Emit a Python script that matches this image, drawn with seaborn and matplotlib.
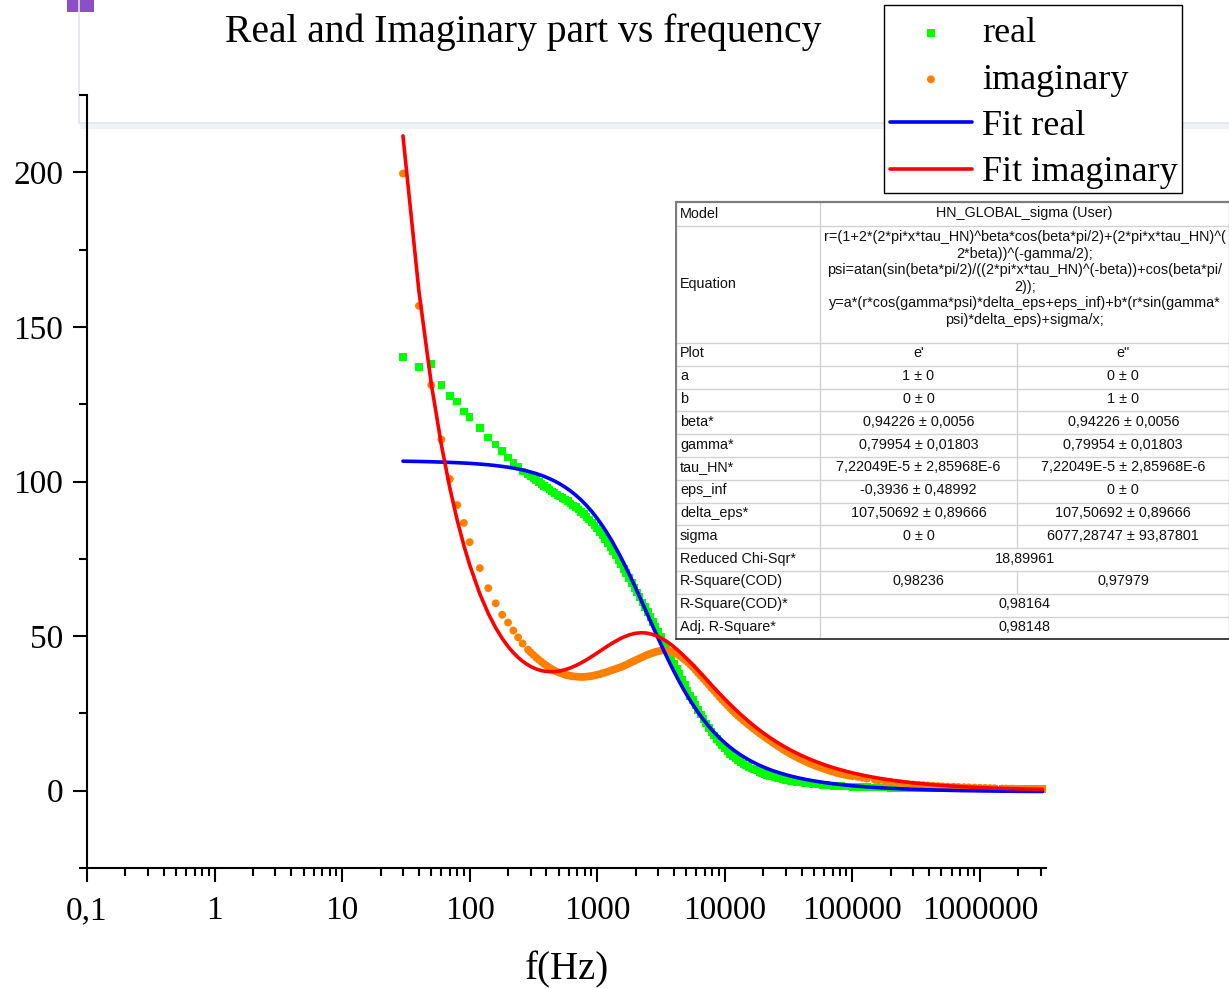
import numpy as np
import pandas as pd
import matplotlib
matplotlib.use("Agg")
import matplotlib.pyplot as plt
from matplotlib.patches import Rectangle
from matplotlib.lines import Line2D
from matplotlib.ticker import FixedLocator, FixedFormatter, LogLocator, MultipleLocator, NullFormatter
import seaborn as sns

# ---------------------------------------------------------------- measured data
freq = [30, 40, 50, 60, 70, 80, 90, 100, 120, 140, 160, 180, 200, 220, 240, 260,
        287, 301, 316, 332, 348, 365, 383, 402, 422, 442, 464, 487, 511, 536, 562, 590,
        619, 649, 681, 715, 750, 787, 825, 866, 909, 953, 1000,
        1050, 1100, 1150, 1210, 1270, 1330, 1400, 1470, 1540, 1620,
        1690, 1780, 1870, 1960, 2050, 2150, 2260, 2370, 2490, 2610,
        2740, 2870, 3010, 3160, 3320, 3480, 3650, 3830, 4020, 4220,
        4420, 4640, 4870, 5110, 5360, 5620, 5900, 6190, 6490, 6810,
        7150, 7500, 7870, 8250, 8660, 9090, 9530, 10000,
        10500, 11000, 11500, 12100, 12700, 13300, 14000, 14700, 15400, 16200,
        16900, 17800, 18700, 19600, 20500,
        21500, 22600, 23700, 24900, 26100, 27400, 28700, 30100, 31600, 33200,
        34800, 36500, 38300, 40200, 42200, 44200, 46400, 48700, 51100, 53600,
        56200, 59000, 61900, 64900, 68100, 71500, 75000, 78700, 82500, 86600,
        90900, 95300, 100000,
        110000, 120000, 130000, 150000, 160000, 180000, 200000, 220000, 240000, 270000,
        300000, 330000, 360000, 390000, 430000, 470000, 510000, 560000, 620000, 680000,
        750000, 820000, 910000, 1000000,
        1100000, 1200000, 1300000, 1500000, 1600000, 1800000, 2000000, 2200000,
        2400000, 2700000, 3000000, 3100000]

eps_real = [140.2, 137.1, 138.0, 131.3, 127.7, 125.9, 122.7, 120.9, 117.4, 114.2, 112.0, 109.9, 107.7, 106.2, 104.8, 103.2,
            102.3, 101.7, 101.1, 100.4, 99.8, 99.2, 98.6, 98.0, 97.4, 96.8, 96.3, 95.7, 95.2, 94.7, 94.2, 93.6,
            92.9, 92.3, 91.7, 90.9, 90.2, 89.4, 88.6, 87.7, 86.7, 85.8, 84.8,
            83.7, 82.6, 81.5, 80.2, 78.9, 77.6, 76.1, 74.6, 73.2, 71.7,
            70.4, 68.8, 67.2, 65.6, 64.1, 62.6, 60.9, 59.4, 57.8, 56.2,
            54.6, 53.1, 51.4, 49.7, 47.9, 46.3, 44.6, 42.9, 41.2, 39.4,
            37.8, 36.0, 34.2, 32.4, 30.7, 29.3, 27.7, 26.1, 24.6, 23.2,
            21.7, 20.3, 19.0, 17.8, 16.7, 15.6, 14.6, 13.6,
            12.7, 11.9, 11.2, 10.5, 9.9, 9.3, 8.7, 8.2, 7.7, 7.2,
            6.9, 6.5, 6.1, 5.8, 5.4,
            5.1, 4.8, 4.55, 4.3, 4.1, 3.9, 3.7, 3.5, 3.35, 3.2,
            3.05, 2.9, 2.8, 2.65, 2.5, 2.4, 2.3, 2.2, 2.1, 2.0,
            1.95, 1.85, 1.8, 1.7, 1.65, 1.6, 1.55, 1.5, 1.45, 1.4,
            1.35, 1.3, 1.25,
            1.2, 1.15, 1.1, 1.05, 1.0, 0.98, 0.95, 0.92, 0.9, 0.88,
            0.85, 0.83, 0.82, 0.8, 0.78, 0.77, 0.76, 0.75, 0.74, 0.73,
            0.72, 0.71, 0.7, 0.7,
            0.69, 0.69, 0.68, 0.68, 0.67, 0.67, 0.66, 0.66,
            0.65, 0.65, 0.64, 0.64]

eps_imag = [199.6, 156.8, 131.2, 113.6, 100.8, 92.4, 86.6, 80.4, 72.0, 65.5, 60.6, 56.9, 54.4, 51.8, 49.6, 47.6,
            45.6, 44.7, 43.9, 43.1, 42.4, 41.7, 41.0, 40.4, 39.8, 39.3, 38.8, 38.4, 38.1, 37.8, 37.5, 37.3,
            37.1, 37.0, 36.9, 36.85, 36.8, 36.8, 36.9, 37.0, 37.1, 37.3, 37.5,
            37.7, 38.0, 38.2, 38.5, 38.8, 39.1, 39.4, 39.7, 40.0, 40.4,
            40.7, 41.2, 41.6, 42.0, 42.4, 42.8, 43.2, 43.6, 44.0, 44.3,
            44.6, 44.9, 45.1, 45.3, 45.4, 45.4, 45.3, 45.0, 44.6, 44.2,
            43.6, 43.0, 42.3, 41.6, 40.8, 40.0, 39.0, 38.0, 37.1, 36.2,
            35.2, 34.2, 33.2, 32.3, 31.3, 30.3, 29.4, 28.5,
            27.6, 26.7, 25.9, 25.0, 24.2, 23.5, 22.7, 22.0, 21.3, 20.6,
            20.0, 19.3, 18.6, 18.0, 17.4,
            16.8, 16.2, 15.6, 15.0, 14.4, 13.9, 13.3, 12.8, 12.3, 11.8,
            11.3, 10.9, 10.4, 10.0, 9.6, 9.2, 8.8, 8.5, 8.1, 7.8,
            7.5, 7.2, 6.9, 6.6, 6.3, 6.1, 5.8, 5.6, 5.4, 5.2,
            5.0, 4.85, 4.7,
            4.5, 4.2, 3.9, 3.5, 3.3, 3.0, 2.8, 2.6, 2.4, 2.2,
            2.0, 1.9, 1.8, 1.7, 1.6, 1.5, 1.4, 1.35, 1.3, 1.2,
            1.15, 1.1, 1.0, 0.95,
            0.9, 0.85, 0.8, 0.72, 0.7, 0.65, 0.6, 0.56,
            0.53, 0.5, 0.48, 0.47]

# ---------------------------------------------------------------- fitted curves
fit_freq = [30, 40, 50, 60, 70, 80, 90, 100, 120, 140, 160, 180, 200, 220, 240, 260,
            280, 300, 330, 360, 390, 430, 470, 510, 560, 620, 680, 750, 820, 910, 1000,
            1100, 1200, 1300, 1500, 1600, 1800, 2000, 2200, 2400, 2700, 3000, 3300, 3600, 3900,
            4300, 4700, 5100, 5600, 6200, 6800, 7500, 8200, 9100, 10000,
            11000, 12000, 13000, 15000, 16000, 18000, 20000, 22000, 24000, 27000, 30000, 33000,
            36000, 39000, 43000, 47000, 51000, 56000, 62000, 68000, 75000, 82000, 91000, 100000,
            110000, 120000, 130000, 150000, 160000, 180000, 200000, 220000, 240000, 270000,
            300000, 330000, 360000, 390000, 430000, 470000, 510000, 560000, 620000, 680000,
            750000, 820000, 910000, 1000000, 1100000, 1200000, 1300000, 1500000, 1600000,
            1800000, 2000000, 2200000, 2400000, 2700000, 3000000, 3100000]

fit_real = [106.57, 106.48, 106.38, 106.28, 106.18, 106.08, 105.97, 105.87, 105.64, 105.40, 105.15, 104.88, 104.61, 104.33, 104.03, 103.73,
            103.42, 103.09, 102.59, 102.07, 101.53, 100.79, 100.01, 99.21, 98.18, 96.89, 95.56, 93.97, 92.35, 90.22, 88.06,
            85.65, 83.25, 80.87, 76.22, 73.97, 69.65, 65.59, 61.81, 58.31, 53.56, 49.35, 45.64, 42.36, 39.45,
            36.06, 33.15, 30.64, 27.95, 25.24, 22.99, 20.81, 18.99, 17.07, 15.49,
            14.05, 12.85, 11.85, 10.25, 9.61, 8.54, 7.69, 7.00, 6.43, 5.73, 5.17, 4.72,
            4.34, 4.02, 3.66, 3.36, 3.11, 2.84, 2.57, 2.35, 2.14, 1.96, 1.77, 1.61,
            1.46, 1.34, 1.23, 1.05, 0.98, 0.86, 0.76, 0.68, 0.61, 0.52,
            0.45, 0.39, 0.34, 0.29, 0.24, 0.20, 0.17, 0.13, 0.09, 0.05,
            0.02, -0.00, -0.03, -0.06, -0.08, -0.10, -0.12, -0.15, -0.16,
            -0.18, -0.20, -0.21, -0.22, -0.24, -0.25, -0.25]

fit_imag = [211.79, 161.60, 131.66, 111.84, 97.80, 87.38, 79.36, 73.03, 63.72, 57.30, 52.67, 49.23, 46.63, 44.63, 43.08, 41.87,
            40.93, 40.20, 39.41, 38.90, 38.61, 38.47, 38.53, 38.73, 39.13, 39.76, 40.47, 41.37, 42.28, 43.44, 44.55,
            45.69, 46.72, 47.62, 49.08, 49.64, 50.45, 50.91, 51.08, 51.02, 50.59, 49.87, 48.97, 47.95, 46.87,
            45.39, 43.92, 42.47, 40.75, 38.80, 37.01, 35.11, 33.38, 31.40, 29.65,
            27.94, 26.43, 25.08, 22.80, 21.83, 20.14, 18.71, 17.50, 16.46, 15.13, 14.03, 13.09,
            12.29, 11.60, 10.80, 10.11, 9.52, 8.89, 8.24, 7.70, 7.16, 6.70, 6.20, 5.78,
            5.38, 5.04, 4.75, 4.27, 4.06, 3.72, 3.44, 3.20, 3.00, 2.74,
            2.54, 2.36, 2.21, 2.08, 1.93, 1.81, 1.70, 1.58, 1.47, 1.37,
            1.27, 1.19, 1.10, 1.02, 0.95, 0.89, 0.84, 0.75, 0.72,
            0.66, 0.61, 0.56, 0.53, 0.48, 0.45, 0.44]

x_ticks = [0.1, 1, 10, 100, 1000, 10000, 100000, 1000000]
x_tick_labels = ["0,1", "1", "10", "100", "1000", "10000", "100000", "1000000"]
y_ticks = [0, 50, 100, 150, 200]

series_labels = ["real", "imaginary", "Fit real", "Fit imaginary"]

# fit report table
table_model = "HN_GLOBAL_sigma (User)"
table_equation = [
    "r=(1+2*(2*pi*x*tau_HN)^beta*cos(beta*pi/2)+(2*pi*x*tau_HN)^(",
    "2*beta))^(-gamma/2);",
    "psi=atan(sin(beta*pi/2)/((2*pi*x*tau_HN)^(-beta))+cos(beta*pi/",
    "2));",
    "y=a*(r*cos(gamma*psi)*delta_eps+eps_inf)+b*(r*sin(gamma*",
    "psi)*delta_eps)+sigma/x;",
]
table_rows = [
    ("Plot", "e'", "e''"),
    ("a", "1 \u00b1 0", "0 \u00b1 0"),
    ("b", "0 \u00b1 0", "1 \u00b1 0"),
    ("beta*", "0,94226 \u00b1 0,0056", "0,94226 \u00b1 0,0056"),
    ("gamma*", "0,79954 \u00b1 0,01803", "0,79954 \u00b1 0,01803"),
    ("tau_HN*", "7,22049E-5 \u00b1 2,85968E-6", "7,22049E-5 \u00b1 2,85968E-6"),
    ("eps_inf", "-0,3936 \u00b1 0,48992", "0 \u00b1 0"),
    ("delta_eps*", "107,50692 \u00b1 0,89666", "107,50692 \u00b1 0,89666"),
    ("sigma", "0 \u00b1 0", "6077,28747 \u00b1 93,87801"),
    ("Reduced Chi-Sqr*", "18,89961", None),
    ("R-Square(COD)", "0,98236", "0,97979"),
    ("R-Square(COD)*", "0,98164", None),
    ("Adj. R-Square*", "0,98148", None),
]

data = pd.DataFrame({"f": freq, "real": eps_real, "imag": eps_imag})
fits = pd.DataFrame({"f": fit_freq, "fit_real": fit_real, "fit_imag": fit_imag})

# ---------------------------------------------------------------- style
sns.set_style("ticks")
plt.rcParams["font.family"] = ["Liberation Serif", "DejaVu Serif"]
plt.rcParams["axes.linewidth"] = 1.5
plt.rcParams["text.color"] = "black"
plt.rcParams["axes.labelcolor"] = "black"
plt.rcParams["axes.edgecolor"] = "black"
plt.rcParams["xtick.color"] = "black"
plt.rcParams["ytick.color"] = "black"

W, H = 1229, 989
fig = plt.figure(figsize=(W / 100, H / 100), dpi=100)
fig.patch.set_facecolor("white")


def fx(px):
    return px / W


def fy(py):
    return 1 - py / H


# window decoration behind the plot
fig.add_artist(Rectangle((fx(67), fy(12)), fx(94) - fx(67), fy(0) - fy(12),
                         transform=fig.transFigure, facecolor="#8c4fc6", edgecolor="none", zorder=-1))
fig.add_artist(Rectangle((fx(80), fy(129)), 1 - fx(80), fy(124) - fy(129),
                         transform=fig.transFigure, facecolor="#f1f2f3", edgecolor="none", zorder=-1))
fig.add_artist(Line2D([fx(79), fx(79)], [fy(0), fy(123)], transform=fig.transFigure,
                      color="#dfe5ea", lw=1.2, zorder=-1))
fig.add_artist(Line2D([fx(79), 1], [fy(123), fy(123)], transform=fig.transFigure,
                      color="#dfe5ea", lw=1.2, zorder=-1))

ax = fig.add_axes([fx(87), fy(868), fx(1046) - fx(87), fy(95) - fy(868)])
ax.set_facecolor("none")

sns.scatterplot(data=data, x="f", y="real", marker="s", color="#00ff00", s=30,
                edgecolor="none", linewidth=0, label=series_labels[0], ax=ax, zorder=3)
sns.scatterplot(data=data, x="f", y="imag", marker="o", color="#ff8000", s=32,
                edgecolor="none", linewidth=0, label=series_labels[1], ax=ax, zorder=3)
sns.lineplot(data=fits, x="f", y="fit_real", color="#0000ff", lw=2.6, sort=False,
             estimator=None, label=series_labels[2], ax=ax, zorder=4)
sns.lineplot(data=fits, x="f", y="fit_imag", color="#ff0000", lw=2.6, sort=False,
             estimator=None, label=series_labels[3], ax=ax, zorder=5)

ax.set_xscale("log")
ax.set_xlim(0.1, 3.3e6)
ax.set_ylim(-25, 225)

ax.xaxis.set_major_locator(FixedLocator(x_ticks))
ax.xaxis.set_major_formatter(FixedFormatter(x_tick_labels))
ax.xaxis.set_minor_locator(LogLocator(base=10, subs=np.arange(2, 10), numticks=30))
ax.xaxis.set_minor_formatter(NullFormatter())
ax.yaxis.set_major_locator(FixedLocator(y_ticks))
ax.yaxis.set_minor_locator(MultipleLocator(25))

ax.tick_params(axis="both", which="major", direction="out", length=10, width=1.5,
               labelsize=24, colors="black")
ax.tick_params(axis="both", which="minor", direction="out", length=6, width=1.5,
               colors="black")
ax.tick_params(axis="x", which="major", pad=10)
ax.tick_params(axis="y", which="major", pad=7)

sns.despine(ax=ax, top=True, right=True)
for side in ("left", "bottom"):
    ax.spines[side].set_linewidth(1.5)
    ax.spines[side].set_color("black")

ax.set_xlabel("f(Hz)", fontsize=28, labelpad=18, color="black")
ax.set_ylabel("")

fig.text(fx(523), fy(32), "Real and Imaginary part vs frequency", fontsize=28.5,
         ha="center", va="center", color="black")

# legend: white box with a thin black frame, entries placed inside it
handles, labels = ax.get_legend_handles_labels()
if ax.get_legend() is not None:
    ax.get_legend().remove()
fig.add_artist(Rectangle((fx(884), fy(193)), fx(1182) - fx(884), fy(5) - fy(193),
                         transform=fig.transFigure, facecolor="white", edgecolor="black",
                         lw=1.0, zorder=5))
leg_kw = dict(loc="upper left", bbox_transform=fig.transFigure, fontsize=26,
              frameon=False, borderpad=0, borderaxespad=0, labelspacing=0.36,
              handlelength=2.27, handletextpad=0.28, scatterpoints=1, labelcolor="black")
leg = fig.legend(handles, labels, bbox_to_anchor=(fx(890), fy(12)), **leg_kw)
leg.set_zorder(6)
fig.canvas.draw()
renderer = fig.canvas.get_renderer()
bb = leg.get_texts()[0].get_window_extent(renderer)
shift_y = 34 - (H - (bb.y0 + bb.y1) / 2)
shift_x = 982 - bb.x0
leg.remove()
leg = fig.legend(handles, labels, bbox_to_anchor=(fx(890 + shift_x), fy(12 + shift_y)), **leg_kw)
leg.set_zorder(6)

# ---------------------------------------------------------------- fit report table
tab = fig.add_axes([fx(675), fy(641), fx(1231) - fx(675), fy(199) - fy(641)])
tab.set_xlim(675, 1231)
tab.set_ylim(641, 199)
tab.axis("off")
tab.set_zorder(20)

top, model_bot, eq_bot = 201.5, 225.5, 343.0
row_h = 22.8
col0, col1, col2 = 675.5, 820.0, 1017.0
right = 1229.5
bottom = eq_bot + row_h * len(table_rows)

tab.add_patch(Rectangle((col0, top), right - col0 + 2, bottom - top,
                        facecolor="white", edgecolor="none", zorder=1))
grid_kw = dict(color="#d2d2d2", lw=1.0, zorder=2, solid_capstyle="butt")
for y in [model_bot, eq_bot] + [eq_bot + row_h * i for i in range(1, len(table_rows))]:
    tab.plot([col0, right], [y, y], **grid_kw)
tab.plot([col1, col1], [top, bottom], **grid_kw)
for i, row in enumerate(table_rows):
    if row[2] is not None:
        y0 = eq_bot + row_h * i
        tab.plot([col2, col2], [y0, y0 + row_h], **grid_kw)

tab.plot([col0, col0], [top, bottom], color="#7d7d7d", lw=1.6, zorder=3)
tab.plot([col0, right], [top, top], color="#7d7d7d", lw=1.6, zorder=3)
tab.plot([right, right], [top, bottom], color="#7d7d7d", lw=1.6, zorder=3)
tab.plot([col0, right], [bottom, bottom], color="#333333", lw=1.3, zorder=3)

tkw = dict(fontsize=10.4, family=["Liberation Sans", "DejaVu Sans"], color="#111111", zorder=4)
mid12 = (col1 + right) / 2
tab.text(680, (top + model_bot) / 2, "Model", ha="left", va="center", **tkw)
tab.text(mid12, (top + model_bot) / 2, table_model, ha="center", va="center", **tkw)
tab.text(680, (model_bot + eq_bot) / 2, "Equation", ha="left", va="center", **tkw)
eq_y0, eq_dy = 237.0, 16.6
for k, line in enumerate(table_equation):
    tab.text(mid12, eq_y0 + k * eq_dy, line, ha="center", va="center", **tkw)
for i, (name, v1, v2) in enumerate(table_rows):
    yc = eq_bot + row_h * i + row_h / 2 - 1.0
    tab.text(680, yc, name, ha="left", va="center", **tkw)
    if v2 is None:
        tab.text(mid12, yc, v1, ha="center", va="center", **tkw)
    else:
        tab.text((col1 + col2) / 2, yc, v1, ha="center", va="center", **tkw)
        tab.text((col2 + right) / 2, yc, v2, ha="center", va="center", **tkw)

fig.savefig("out.png", dpi=100, facecolor="white")
